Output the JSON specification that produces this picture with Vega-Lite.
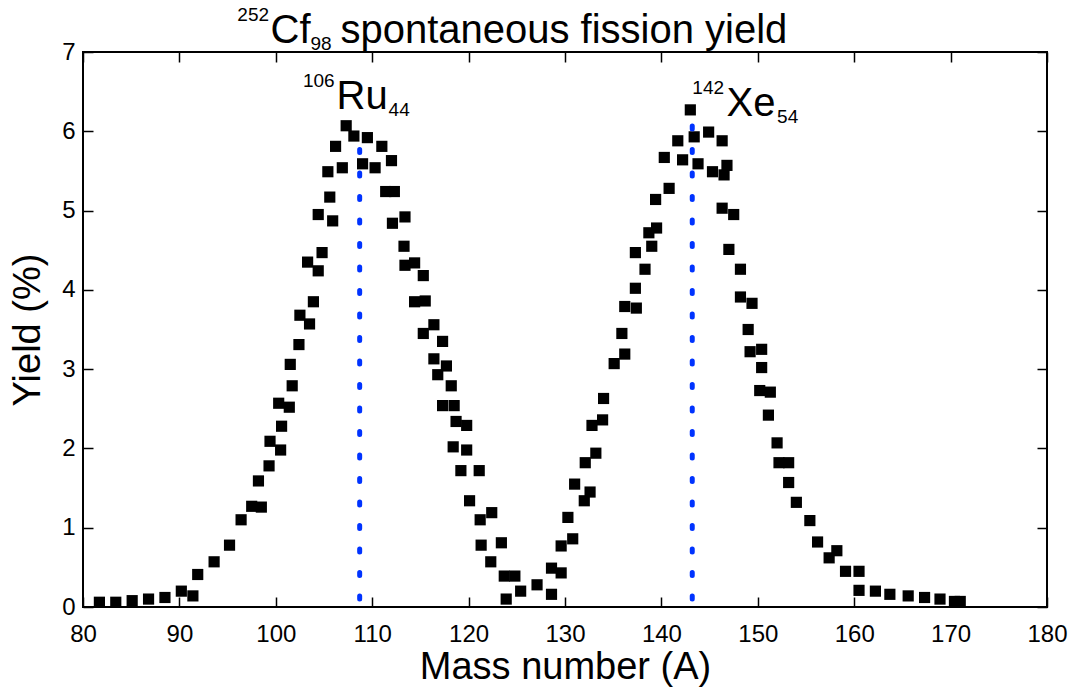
{
  "$schema": "https://vega.github.io/schema/vega-lite/v6.json",
  "width": 964,
  "height": 555,
  "autosize": "none",
  "padding": {"left": 83, "top": 52, "right": 41, "bottom": 92},
  "background": "white",
  "config": {
    "font": "Liberation Sans",
    "view": {"stroke": "black", "strokeWidth": 2},
    "axis": {
      "domain": false,
      "grid": false,
      "tickSize": -10,
      "tickColor": "black",
      "tickWidth": 1.5,
      "labelColor": "black",
      "labelFontSize": 24,
      "labelFont": "Liberation Sans",
      "titleColor": "black",
      "titleFont": "Liberation Sans",
      "titleFontSize": 38,
      "titleFontWeight": "normal"
    }
  },
  "datasets": {
    "points": [
      {"A":81.7,"Y":0.06},{"A":83.4,"Y":0.06},{"A":85.1,"Y":0.08},{"A":86.8,"Y":0.10},{"A":88.5,"Y":0.12},
      {"A":90.2,"Y":0.20},{"A":91.4,"Y":0.14},{"A":91.9,"Y":0.41},{"A":93.6,"Y":0.57},{"A":95.2,"Y":0.78},
      {"A":96.4,"Y":1.10},{"A":97.5,"Y":1.27},{"A":98.2,"Y":1.59},{"A":98.5,"Y":1.26},{"A":99.3,"Y":1.78},
      {"A":99.4,"Y":2.09},{"A":100.3,"Y":2.57},{"A":100.5,"Y":1.98},{"A":100.6,"Y":2.28},{"A":101.4,"Y":2.52},
      {"A":101.5,"Y":3.06},{"A":101.7,"Y":2.79},{"A":102.4,"Y":3.31},{"A":102.5,"Y":3.68},{"A":103.3,"Y":4.35},
      {"A":103.5,"Y":3.57},{"A":103.9,"Y":3.85},{"A":104.4,"Y":4.24},{"A":104.4,"Y":4.95},{"A":104.8,"Y":4.47},
      {"A":105.4,"Y":5.49},{"A":105.6,"Y":5.17},{"A":105.9,"Y":4.87},{"A":106.2,"Y":5.81},{"A":106.9,"Y":5.54},
      {"A":107.3,"Y":6.07},{"A":108.1,"Y":5.94},{"A":109.0,"Y":5.59},{"A":109.5,"Y":5.92},{"A":110.3,"Y":5.54},
      {"A":111.0,"Y":5.81},{"A":111.4,"Y":5.24},{"A":112.0,"Y":5.63},{"A":112.1,"Y":4.84},{"A":112.3,"Y":5.24},
      {"A":113.3,"Y":4.55},{"A":113.4,"Y":4.92},{"A":113.4,"Y":4.31},{"A":114.4,"Y":4.34},{"A":114.4,"Y":3.85},
      {"A":115.3,"Y":4.18},{"A":115.3,"Y":3.45},{"A":115.5,"Y":3.86},{"A":116.4,"Y":3.56},{"A":116.4,"Y":3.13},
      {"A":116.8,"Y":2.93},{"A":117.3,"Y":3.35},{"A":117.3,"Y":2.54},{"A":117.7,"Y":3.04},{"A":118.2,"Y":2.79},
      {"A":118.4,"Y":2.02},{"A":118.5,"Y":2.54},{"A":118.7,"Y":2.34},{"A":119.2,"Y":1.72},{"A":119.8,"Y":2.29},
      {"A":119.8,"Y":1.98},{"A":120.1,"Y":1.34},{"A":121.1,"Y":1.72},{"A":121.2,"Y":1.10},{"A":121.3,"Y":0.78},
      {"A":122.3,"Y":0.57},{"A":122.4,"Y":1.19},{"A":123.4,"Y":0.81},{"A":123.7,"Y":0.39},{"A":123.9,"Y":0.10},
      {"A":124.8,"Y":0.39},{"A":125.4,"Y":0.20},{"A":127.1,"Y":0.28},{"A":128.6,"Y":0.49},{"A":128.6,"Y":0.16},
      {"A":129.6,"Y":0.43},{"A":129.6,"Y":0.77},{"A":130.3,"Y":1.13},{"A":130.8,"Y":0.86},{"A":131.0,"Y":1.55},
      {"A":132.0,"Y":1.34},{"A":132.1,"Y":1.82},{"A":132.6,"Y":1.45},{"A":132.8,"Y":2.29},{"A":133.2,"Y":1.94},
      {"A":133.9,"Y":2.36},{"A":134.0,"Y":2.63},{"A":135.1,"Y":3.07},{"A":135.9,"Y":3.45},{"A":136.2,"Y":3.19},
      {"A":136.2,"Y":3.79},{"A":137.3,"Y":4.02},{"A":137.3,"Y":4.47},{"A":137.4,"Y":3.77},{"A":138.3,"Y":4.26},
      {"A":138.7,"Y":4.72},{"A":139.0,"Y":4.55},{"A":139.4,"Y":5.14},{"A":139.5,"Y":4.78},{"A":140.3,"Y":5.67},
      {"A":140.8,"Y":5.28},{"A":141.7,"Y":5.88},{"A":142.2,"Y":5.64},{"A":143.0,"Y":6.27},{"A":143.4,"Y":5.93},
      {"A":143.8,"Y":5.59},{"A":144.9,"Y":5.99},{"A":145.3,"Y":5.49},{"A":146.3,"Y":5.88},{"A":146.3,"Y":5.03},
      {"A":146.5,"Y":5.45},{"A":146.8,"Y":5.57},{"A":147.0,"Y":4.51},{"A":147.5,"Y":4.95},{"A":148.2,"Y":4.26},
      {"A":148.2,"Y":3.91},{"A":149.0,"Y":3.50},{"A":149.2,"Y":3.22},{"A":149.4,"Y":3.83},{"A":150.2,"Y":2.73},
      {"A":150.4,"Y":3.25},{"A":150.4,"Y":3.02},{"A":151.1,"Y":2.42},{"A":151.3,"Y":2.71},{"A":152.0,"Y":2.07},
      {"A":152.2,"Y":1.82},{"A":153.2,"Y":1.82},{"A":153.2,"Y":1.57},{"A":154.0,"Y":1.32},{"A":155.4,"Y":1.09},
      {"A":156.2,"Y":0.82},{"A":157.4,"Y":0.62},{"A":158.2,"Y":0.71},{"A":159.1,"Y":0.45},{"A":160.5,"Y":0.45},
      {"A":160.5,"Y":0.21},{"A":162.2,"Y":0.20},{"A":163.7,"Y":0.16},{"A":165.6,"Y":0.14},{"A":167.3,"Y":0.12},
      {"A":168.9,"Y":0.10},{"A":170.4,"Y":0.07},{"A":171.0,"Y":0.07}
    ],
    "lines": [
      {"A":108.7,"y0":0.1,"y1":6.0},
      {"A":143.2,"y0":0.1,"y1":6.3}
    ],
    "texts": [
      {"A":99.3,"Y":7.11,"text":"252","part":"sup"},
      {"A":99.45,"Y":7.11,"text":"Cf","part":"main"},
      {"A":103.6,"Y":7.11,"text":"98","part":"sub"},
      {"A":106.7,"Y":7.11,"text":"spontaneous fission yield","part":"main"},
      {"A":106.1,"Y":6.28,"text":"106","part":"sup"},
      {"A":106.3,"Y":6.28,"text":"Ru","part":"main"},
      {"A":111.7,"Y":6.28,"text":"44","part":"sub"},
      {"A":146.5,"Y":6.19,"text":"142","part":"sup"},
      {"A":146.75,"Y":6.19,"text":"Xe","part":"main"},
      {"A":152.0,"Y":6.19,"text":"54","part":"sub"}
    ]
  },
  "layer": [
    {
      "data": {"name": "points"},
      "mark": {"type": "point", "shape": "square", "filled": true, "size": 125, "color": "black", "opacity": 1},
      "encoding": {
        "x": {
          "field": "A", "type": "quantitative",
          "scale": {"domain": [80, 180], "nice": false, "zero": false},
          "axis": {"orient": "bottom", "title": "Mass number (A)", "values": [80,90,100,110,120,130,140,150,160,170,180], "labelPadding": 25, "labelDx": 10, "titlePadding": 2, "labelFlush": false}
        },
        "y": {
          "field": "Y", "type": "quantitative",
          "scale": {"domain": [0, 7], "nice": false},
          "axis": {"orient": "left", "title": "Yield (%)", "values": [0,1,2,3,4,5,6,7], "labelPadding": 18, "titlePadding": 14, "labelFlush": false}
        }
      }
    },
    {
      "data": {"name": "lines"},
      "mark": {"type": "rule", "color": "#0033ff", "strokeWidth": 5, "strokeDash": [3, 20.5], "strokeCap": "round"},
      "encoding": {
        "x": {"field": "A", "type": "quantitative", "axis": {"orient": "top", "title": null, "labels": false, "values": [80,90,100,110,120,130,140,150,160,170,180]}},
        "y": {"field": "y0", "type": "quantitative", "axis": {"orient": "right", "title": null, "labels": false, "values": [0,1,2,3,4,5,6,7]}},
        "y2": {"field": "y1"}
      }
    },
    {
      "data": {"name": "texts"},
      "transform": [{"filter": "datum.part === 'main'"}],
      "mark": {"type": "text", "align": "left", "baseline": "alphabetic", "fontSize": 40, "font": "Liberation Sans", "color": "black"},
      "encoding": {
        "x": {"field": "A", "type": "quantitative", "axis": null},
        "y": {"field": "Y", "type": "quantitative", "axis": null},
        "text": {"field": "text"}
      }
    },
    {
      "data": {"name": "texts"},
      "transform": [{"filter": "datum.part === 'sup'"}],
      "mark": {"type": "text", "align": "right", "baseline": "alphabetic", "fontSize": 19, "dy": -22, "font": "Liberation Sans", "color": "black"},
      "encoding": {
        "x": {"field": "A", "type": "quantitative", "axis": null},
        "y": {"field": "Y", "type": "quantitative", "axis": null},
        "text": {"field": "text"}
      }
    },
    {
      "data": {"name": "texts"},
      "transform": [{"filter": "datum.part === 'sub'"}],
      "mark": {"type": "text", "align": "left", "baseline": "alphabetic", "fontSize": 19, "dy": 7, "font": "Liberation Sans", "color": "black"},
      "encoding": {
        "x": {"field": "A", "type": "quantitative", "axis": null},
        "y": {"field": "Y", "type": "quantitative", "axis": null},
        "text": {"field": "text"}
      }
    }
  ],
  "resolve": {"axis": {"x": "independent", "y": "independent"}}
}
